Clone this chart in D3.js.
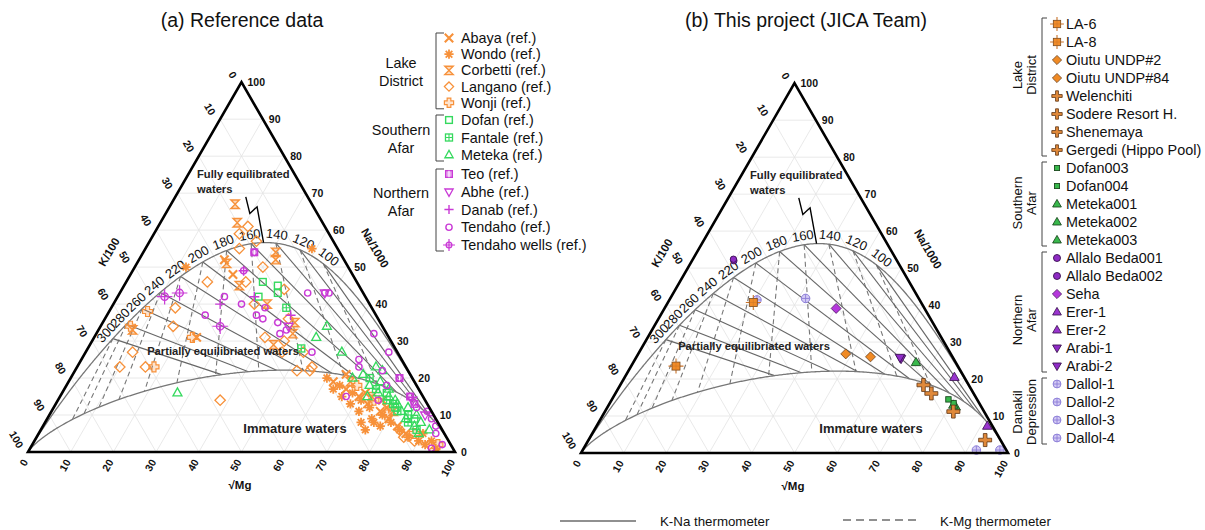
<!DOCTYPE html>
<html>
<head>
<meta charset="utf-8">
<script src="https://cdn.jsdelivr.net/npm/d3@7"></script>
<style>
  body { margin: 0; background: #fff; }
  svg { display: block; font-family: "Liberation Sans", Arial, Helvetica, sans-serif; }
</style>
</head>
<body>
<svg id="chart" width="1205" height="530"></svg>
<script>
// ---------------------------------------------------------------------------
// Values. Every sample is [Na, √Mg] in percent of (Na/1000 + K/100 + √Mg);
// the K/100 share is the remainder.
// ---------------------------------------------------------------------------
const edgeTicks  = [0, 10, 20, 30, 40, 50, 60, 70, 80, 90, 100];
const tempLabels = [100, 120, 140, 160, 180, 200, 220, 240, 260, 280, 300];

// (a) reference data
const abaya = [[19,62],[17,66],[15,70],[13,73],[11,77],[9,80],[7,83],[5,86],[16,71],[12,78],[52,20],[48,24],[31,24],[21,64],[14,76]];
const wondo = [[55,39],[50,12],[8,74],[6,76],[8,77],[18,64],[16,68],[14,71],[12,74],[10,78],[8,81],[6,84],[4,87],[3,90],[2,92],[5,90],[20,60],[17,63],[13,69],[11,72],[9,76],[7,79],[15,66],[3,93],[1,95]];
const corbetti = [[67,15],[62,18],[54,31],[52,32],[51,21],[35,45],[32,46],[33,8],[45,27],[40,36],[19,66],[15,73],[11,80],[29,43]];
const langano = [[61,21],[59,20],[57,25],[55,22],[50,30],[46,19],[46,28],[44,38],[40,33],[31,40],[30,45],[27,51],[22,52],[23,55],[39,15],[34,17],[27,11],[23,10],[23,16],[14,38],[3,89],[2,93],[4,86],[6,84],[22,55],[27,46],[36,43]];
const wonji = [[38,9],[34,7],[23,18],[18,68],[14,74],[10,79],[31,23],[5,88],[2,95]];
const dofan = [[46,32],[45,36],[43,37],[42,33],[16,76],[12,80],[9,86]];
const fantale = [[39,41],[28,50],[20,70],[17,73],[14,77],[11,81],[8,85],[6,88],[13,79],[10,84]];
const meteka = [[31,52],[34,53],[27,60],[23,70],[22,72],[16,27],[20,66],[18,71],[16,74],[15,77],[13,80],[11,82],[9,84],[7,87],[5,89],[19,73],[17,76],[14,79],[12,83],[10,86],[21,68],[15,72],[8,88],[6,91]];
const teo = [[15,82],[13,84],[54,26],[20,77]];
const abhe = [[14,83],[10,88],[34,44],[43,48]];
const danab = [[40,25],[42,32],[49,26],[37,43]];
const tendaho = [[54,26],[49,26],[42,25],[37,23],[40,30],[37,35],[39,36],[36,37],[35,41],[33,44],[32,43],[43,44],[43,48],[43,49],[27,53],[25,65],[32,65],[27,71],[23,66],[14,75],[20,77],[15,82],[11,88],[7,92],[2,96],[1,94],[15,67],[22,72],[12,85],[5,93],[9,90],[18,75]];
const tendahoWells = [[42,11],[43,14],[34,28]];

// (b) this project
const projNames = ["LA-6","LA-8","Oiutu UNDP#2","Oiutu UNDP#84","Welenchiti","Sodere Resort H.","Shenemaya","Gergedi (Hippo Pool)",
                   "Dofan003","Dofan004","Meteka001","Meteka002","Meteka003",
                   "Allalo Beda001","Allalo Beda002","Seha","Erer-1","Erer-2","Arabi-1","Arabi-2",
                   "Dallol-1","Dallol-2","Dallol-3","Dallol-4"];
const projNa = [23.5,40.7,26.8,26.0,18.4,16.1,11.2,3.5, 14.5,13.5,24.5,13.0,12.5, 52.4,52.0,39.1,20.5,7.3,25.8,25.5, 41.8,41.4,0.8,0.8];
const projMg = [10.5,20.0,48.6,54.8,71.0,74.0,81.6,92.9, 78.8,80.5,66.2,80.7,81.5, 9.5,9.8,40.2,77.2,91.5,61.8,62.2, 31.7,20.5,92.2,97.7];

// ---------------------------------------------------------------------------
// Giggenbach (1988) geothermometers
// ---------------------------------------------------------------------------
function norm(a, c) { const s = a + 1 + c; return { na: 100 * a / s, mg: 100 * c / s }; }
// full equilibrium: K-Na and K-Mg thermometers agree
function fullEq(t) {
  const T = t + 273.15;
  const a = Math.pow(10, 1390 / T - 1.75) / 10;
  const c = 100 / Math.pow(10, (14 - 4410 / T) / 2);
  return norm(a, c);
}
// immature-water boundary, maturity index 2.0, on the K-Na line of t
function immature(t) {
  const T = t + 273.15;
  const lkn = 1.75 - 1390 / T;
  const a = Math.pow(10, -lkn) / 10;
  const c = 100 / Math.pow(10, ((2 + lkn) / 0.315) / 2);
  return norm(a, c);
}
// K-Mg line of t where it meets the immature-water boundary
function kmgLow(t) {
  const T = t + 273.15;
  const lk2 = 14 - 4410 / T;
  const invT = (3.75 - 0.315 * lk2) / 1390;
  const a = Math.pow(10, 1390 * invT - 1.75) / 10;
  const c = 100 / Math.pow(10, lk2 / 2);
  return norm(a, c);
}

// ---------------------------------------------------------------------------
// styles
// ---------------------------------------------------------------------------
const OR = "#f7913a", GR = "#35d95e", MG = "#c93ad6";
const refStyle = {
  abaya:        { name: "Abaya (ref.)",         type: "xcross",     color: OR, s: 4.2 },
  wondo:        { name: "Wondo (ref.)",         type: "asterisk",   color: OR, s: 4.6 },
  corbetti:     { name: "Corbetti (ref.)",      type: "hourglass",  color: OR, s: 4.2 },
  langano:      { name: "Langano (ref.)",       type: "diamond",    color: OR, s: 5.2 },
  wonji:        { name: "Wonji (ref.)",         type: "wonji",      color: OR, s: 5.0 },
  dofan:        { name: "Dofan (ref.)",         type: "square",     color: GR, s: 4.2 },
  fantale:      { name: "Fantale (ref.)",       type: "squareplus", color: GR, s: 4.4 },
  meteka:       { name: "Meteka (ref.)",        type: "triangle",   color: GR, s: 5.0 },
  teo:          { name: "Teo (ref.)",           type: "teo",        color: MG, s: 4.2 },
  abhe:         { name: "Abhe (ref.)",          type: "tridown",    color: MG, s: 5.0 },
  danab:        { name: "Danab (ref.)",         type: "plus",       color: MG, s: 5.0 },
  tendaho:      { name: "Tendaho (ref.)",       type: "circle",     color: MG, s: 4.6 },
  tendahoWells: { name: "Tendaho wells (ref.)", type: "circleplus", color: MG, s: 6.0 }
};
const refData = { abaya, wondo, corbetti, langano, wonji, dofan, fantale, meteka, teo, abhe, danab, tendaho, tendahoWells };
const refGroups = [
  { label: ["Lake", "District"],  keys: ["abaya", "wondo", "corbetti", "langano", "wonji"], y0: 38,  step: 16.2, labelY: 72 },
  { label: ["Southern", "Afar"],  keys: ["dofan", "fantale", "meteka"],                     y0: 120, step: 17.5, labelY: 139 },
  { label: ["Northern", "Afar"],  keys: ["teo", "abhe", "danab", "tendaho", "tendahoWells"], y0: 174, step: 17.75, labelY: 202 }
];

const LA  = { type: "laSq",        fill: "#f28c28", stroke: "#7a4a1e", line: "#c9732a" };
const OIU = { type: "diamondF",    fill: "#f08a24", stroke: "#6b4220" };
const CRS = { type: "plusF",       fill: "#e0893a", stroke: "#5e3514" };
const DSQ = { type: "squareF",     fill: "#38b84c", stroke: "#1b4a1f" };
const DTR = { type: "triangleF",   fill: "#38b84c", stroke: "#1b4a1f" };
const ALB = { type: "circleF",     fill: "#8e2bc4", stroke: "#3a124f" };
const SEH = { type: "diamondF",    fill: "#b537dc", stroke: "#4a1660" };
const ERR = { type: "triangleF",   fill: "#9a34cf", stroke: "#401656" };
const ARB = { type: "tridownF",    fill: "#8f2bc7", stroke: "#3a124f" };
const DAL = { type: "circleplusF", fill: "#d4cbf4", stroke: "#8c7ed8" };
const projStyle = [LA, LA, OIU, OIU, CRS, CRS, CRS, CRS, DSQ, DSQ, DTR, DTR, DTR,
                   ALB, ALB, SEH, ERR, ERR, ARB, ARB, DAL, DAL, DAL, DAL];
const projGroups = [
  { label: ["Lake", "District"],       from: 0,  to: 7,  labelY: 75 },
  { label: ["Southern", "Afar"],       from: 8,  to: 12, labelY: 203 },
  { label: ["Northern", "Afar"],       from: 13, to: 19, labelY: 320 },
  { label: ["Danakil", "Depression"],  from: 20, to: 23, labelY: 412 }
];

// ---------------------------------------------------------------------------
// symbols
// ---------------------------------------------------------------------------
function crossPoly(s, w) {
  return `M${-w},${-s}H${w}V${-w}H${s}V${w}H${w}V${s}H${-w}V${w}H${-s}V${-w}H${-w}Z`;
}
function drawSymbol(g, type, st, s) {
  const c = st.color;
  switch (type) {
    case "xcross":
      g.append("path").attr("d", `M${-s},${-s}L${s},${s}M${-s},${s}L${s},${-s}`)
        .attr("stroke", c).attr("stroke-width", 2.1).attr("fill", "none"); break;
    case "asterisk": {
      const d = s * 0.72;
      g.append("path").attr("d", `M${-s},0H${s}M0,${-s}V${s}M${-d},${-d}L${d},${d}M${-d},${d}L${d},${-d}`)
        .attr("stroke", c).attr("stroke-width", 1.8).attr("fill", "none"); break;
    }
    case "hourglass":
      g.append("path").attr("d", `M${-s},${-s}H${s}L${-s},${s}H${s}Z`)
        .attr("stroke", c).attr("stroke-width", 1.4).attr("fill", c).attr("fill-opacity", 0.35); break;
    case "diamond":
      g.append("path").attr("d", `M0,${-s}L${s},0L0,${s}L${-s},0Z`)
        .attr("stroke", c).attr("stroke-width", 1.3).attr("fill", "none"); break;
    case "wonji":
      g.append("path").attr("d", crossPoly(s, s * 0.4))
        .attr("stroke", c).attr("stroke-width", 1.2).attr("fill", c).attr("fill-opacity", 0.25); break;
    case "square":
      g.append("rect").attr("x", -s * 0.8).attr("y", -s * 0.8).attr("width", s * 1.6).attr("height", s * 1.6)
        .attr("stroke", c).attr("stroke-width", 1.4).attr("fill", "none"); break;
    case "squareplus":
      g.append("rect").attr("x", -s * 0.8).attr("y", -s * 0.8).attr("width", s * 1.6).attr("height", s * 1.6)
        .attr("stroke", c).attr("stroke-width", 1.3).attr("fill", "none");
      g.append("path").attr("d", `M${-s * 0.8},0H${s * 0.8}M0,${-s * 0.8}V${s * 0.8}`)
        .attr("stroke", c).attr("stroke-width", 1.1); break;
    case "triangle":
      g.append("path").attr("d", `M0,${-s}L${s * 0.9},${s * 0.6}L${-s * 0.9},${s * 0.6}Z`)
        .attr("stroke", c).attr("stroke-width", 1.3).attr("fill", "none"); break;
    case "teo":
      g.append("rect").attr("x", -s * 0.8).attr("y", -s * 0.8).attr("width", s * 1.6).attr("height", s * 1.6)
        .attr("stroke", c).attr("stroke-width", 1.3).attr("fill", c).attr("fill-opacity", 0.45);
      g.append("path").attr("d", `M0,${-s * 0.8}V${s * 0.8}`).attr("stroke", "#fff").attr("stroke-width", 1.1); break;
    case "tridown":
      g.append("path").attr("d", `M0,${s}L${s * 0.9},${-s * 0.6}L${-s * 0.9},${-s * 0.6}Z`)
        .attr("stroke", c).attr("stroke-width", 1.3).attr("fill", "none"); break;
    case "plus":
      g.append("path").attr("d", `M${-s},0H${s}M0,${-s}V${s}`)
        .attr("stroke", c).attr("stroke-width", 1.4); break;
    case "circle":
      g.append("circle").attr("r", s * 0.68)
        .attr("stroke", c).attr("stroke-width", 1.4).attr("fill", "none"); break;
    case "circleplus":
      g.append("circle").attr("r", s * 0.62)
        .attr("stroke", c).attr("stroke-width", 1.3).attr("fill", c).attr("fill-opacity", 0.12);
      g.append("path").attr("d", `M${-s * 1.3},0H${s * 1.3}M0,${-s * 1.3}V${s * 1.3}`)
        .attr("stroke", c).attr("stroke-width", 1.2); break;
    // filled symbols
    case "laSq":
      g.append("path").attr("d", `M${-s * 1.5},0H${s * 1.5}M0,${-s * 1.5}V${s * 1.5}`)
        .attr("stroke", st.line).attr("stroke-width", 1.1);
      g.append("rect").attr("x", -s * 0.8).attr("y", -s * 0.8).attr("width", s * 1.6).attr("height", s * 1.6)
        .attr("fill", st.fill).attr("stroke", st.stroke).attr("stroke-width", 0.8);
      g.append("path").attr("d", `M${-s * 0.8},0H${s * 0.8}M0,${-s * 0.8}V${s * 0.8}`)
        .attr("stroke", st.line).attr("stroke-width", 0.8).attr("stroke-opacity", 0.6); break;
    case "diamondF":
      g.append("path").attr("d", `M0,${-s}L${s},0L0,${s}L${-s},0Z`)
        .attr("fill", st.fill).attr("stroke", st.stroke).attr("stroke-width", 0.8); break;
    case "plusF":
      g.append("path").attr("d", crossPoly(s, s * 0.28))
        .attr("fill", st.fill).attr("stroke", st.stroke).attr("stroke-width", 0.8); break;
    case "squareF":
      g.append("rect").attr("x", -s * 0.75).attr("y", -s * 0.75).attr("width", s * 1.5).attr("height", s * 1.5)
        .attr("fill", st.fill).attr("stroke", st.stroke).attr("stroke-width", 0.9); break;
    case "triangleF":
      g.append("path").attr("d", `M0,${-s}L${s * 0.95},${s * 0.65}L${-s * 0.95},${s * 0.65}Z`)
        .attr("fill", st.fill).attr("stroke", st.stroke).attr("stroke-width", 0.9); break;
    case "tridownF":
      g.append("path").attr("d", `M0,${s}L${s * 0.95},${-s * 0.65}L${-s * 0.95},${-s * 0.65}Z`)
        .attr("fill", st.fill).attr("stroke", st.stroke).attr("stroke-width", 0.9); break;
    case "circleF":
      g.append("circle").attr("r", s * 0.8)
        .attr("fill", st.fill).attr("stroke", st.stroke).attr("stroke-width", 0.9); break;
    case "circleplusF":
      g.append("circle").attr("r", s * 0.85)
        .attr("fill", st.fill).attr("stroke", st.stroke).attr("stroke-width", 1);
      g.append("path").attr("d", `M${-s * 0.85},0H${s * 0.85}M0,${-s * 0.85}V${s * 0.85}`)
        .attr("stroke", st.stroke).attr("stroke-width", 0.9); break;
  }
}

// ---------------------------------------------------------------------------
// drawing
// ---------------------------------------------------------------------------
const svg = d3.select("#chart");
svg.append("rect").attr("width", 1205).attr("height", 530).attr("fill", "#fff");

const SIDE = 427, H = SIDE * Math.sqrt(3) / 2;
const curveTemps = d3.range(0, 400, 1).concat(d3.range(400, 3001, 10));

function ternaryPanel(ox, oy) {
  const g = svg.append("g");
  const sx = d3.scaleLinear().domain([0, 100]).range([ox, ox + SIDE]);
  const sy = d3.scaleLinear().domain([0, 100]).range([oy, oy - H]);
  const P = (na, mg) => [sx(mg + na / 2), sy(na)];
  const line = d3.line().x(d => P(d.na, d.mg)[0]).y(d => P(d.na, d.mg)[1]);
  const seg = (a, b) => line([a, b]);

  // faint 10 % grid
  const grid = g.append("g").attr("stroke", "#e3e3e3").attr("stroke-width", 0.8).attr("fill", "none");
  d3.range(10, 100, 10).forEach(v => {
    grid.append("path").attr("d", seg({ na: v, mg: 0 }, { na: v, mg: 100 - v }));
    grid.append("path").attr("d", seg({ na: 0, mg: v }, { na: 100 - v, mg: v }));
    grid.append("path").attr("d", seg({ na: 100 - v, mg: 0 }, { na: 0, mg: 100 - v }));
  });

  // thermometer lines
  const th = g.append("g").attr("fill", "none");
  tempLabels.forEach(t => {
    th.append("path").attr("d", seg(fullEq(t), kmgLow(t)))
      .attr("stroke", "#777").attr("stroke-width", 1.1).attr("stroke-dasharray", "5,3.5");
    th.append("path").attr("d", seg(fullEq(t), immature(t)))
      .attr("stroke", "#666").attr("stroke-width", 1.1);
  });

  // full-equilibrium and immature-water curves
  const Kv = { na: 0, mg: 0 };
  th.append("path").attr("d", line(curveTemps.map(fullEq).concat([Kv])))
    .attr("stroke", "#777").attr("stroke-width", 1.3);
  th.append("path").attr("d", line(curveTemps.map(immature).concat([Kv])))
    .attr("stroke", "#777").attr("stroke-width", 1.3);

  // temperature labels along the full-equilibrium curve
  tempLabels.forEach(t => {
    const f = fullEq(t), pa = P(fullEq(t + 2).na, fullEq(t + 2).mg), pb = P(fullEq(t - 2).na, fullEq(t - 2).mg);
    let dx = pb[0] - pa[0], dy = pb[1] - pa[1];
    const len = Math.hypot(dx, dy); dx /= len; dy /= len;
    let nx = dy, ny = -dx; if (ny > 0) { nx = -nx; ny = -ny; }
    const p = P(f.na, f.mg);
    const x = p[0] + nx * 9, y = p[1] + ny * 9;
    g.append("text").attr("x", x).attr("y", y)
      .attr("transform", `rotate(${Math.atan2(dy, dx) * 180 / Math.PI},${x},${y})`)
      .attr("text-anchor", "middle").attr("dominant-baseline", "central")
      .attr("font-size", 13).attr("fill", "#111").text(t);
  });

  // zig-zag pointer from "Fully equilibrated waters" to the 150 °C point
  const zig = [{ na: 69.0, mg: 16.5 }, { na: 64.5, mg: 19.7 }, { na: 66.3, mg: 20.5 }, fullEq(150)];
  g.append("path").attr("d", line(zig)).attr("fill", "none").attr("stroke", "#000").attr("stroke-width", 1.4);

  return { g, P, sx, sy, line, ox, oy };
}

function panelFrame(p, opts) {
  const { g, P, ox, oy } = p;
  const V = [P(100, 0), P(0, 100), P(0, 0)];
  g.append("path").attr("d", `M${V[0]}L${V[1]}L${V[2]}Z`)
    .attr("fill", "none").attr("stroke", "#000").attr("stroke-width", 2.6).attr("stroke-linejoin", "miter");

  // region names
  const rg = g.append("g").attr("font-weight", "bold").attr("fill", "#222");
  rg.append("text").attr("x", ox + 169).attr("y", oy - 274).attr("font-size", 11.2).text("Fully equilibrated");
  rg.append("text").attr("x", ox + 169).attr("y", oy - 259).attr("font-size", 11.2).text("waters");
  rg.append("text").attr("x", ox + opts.partial[0]).attr("y", oy + opts.partial[1]).attr("font-size", 11.2)
    .attr("text-anchor", "middle").text("Partially equilibriated waters");
  rg.append("text").attr("x", ox + opts.immature[0]).attr("y", oy + opts.immature[1]).attr("font-size", 13)
    .attr("text-anchor", "middle").text("Immature waters");

  // edge tick labels
  const tk = g.append("g").attr("font-size", 10.5).attr("font-weight", "bold").attr("fill", "#111");
  edgeTicks.forEach(v => {
    const pk = P(100 - v, 0);            // K/100 on the left edge
    tk.append("text").attr("x", pk[0] - 7).attr("y", pk[1] - 5).attr("text-anchor", "end")
      .attr("dominant-baseline", "central")
      .attr("transform", `rotate(60,${pk[0] - 7},${pk[1] - 5})`).text(v);
    const pn = P(v, 100 - v);            // Na/1000 on the right edge
    tk.append("text").attr("x", pn[0] + 6).attr("y", pn[1]).attr("dominant-baseline", "central").text(v);
    const pm = P(0, v);                  // √Mg on the base
    tk.append("text").attr("x", pm[0] - 3).attr("y", pm[1] + 8).attr("text-anchor", "end")
      .attr("dominant-baseline", "central")
      .attr("transform", `rotate(-60,${pm[0] - 3},${pm[1] + 8})`).text(v);
  });

  // axis names
  const an = g.append("g").attr("font-size", 11.5).attr("font-weight", "bold").attr("fill", "#111")
    .attr("text-anchor", "middle").attr("dominant-baseline", "central");
  an.append("text").attr("x", ox + 81).attr("y", oy - 200).attr("transform", `rotate(-60,${ox + 81},${oy - 200})`).text("K/100");
  an.append("text").attr("x", ox + 347).attr("y", oy - 204).attr("transform", `rotate(60,${ox + 347},${oy - 204})`).text("Na/1000");
  an.append("text").attr("x", ox + 212).attr("y", oy + 33).text("√Mg");
}

// ---- (a) reference data ----
const pA = ternaryPanel(28, 452);
const ptsA = pA.g.append("g");
Object.keys(refStyle).forEach(key => {
  const st = refStyle[key];
  refData[key].forEach(([na, mg]) => {
    const [x, y] = pA.P(na, mg);
    drawSymbol(ptsA.append("g").attr("transform", `translate(${x},${y})`), st.type, st, st.s);
  });
});
panelFrame(pA, { partial: [195, -97], immature: [267, -19] });

// ---- (b) this project ----
const pB = ternaryPanel(581, 453);
const ptsB = pB.g.append("g");
d3.range(projNames.length).reverse().forEach(i => {
  const st = projStyle[i];
  const s = st.type === "plusF" ? 6.5 : st.type === "squareF" ? 3.6 : st.type === "circleF" ? 4 : 5;
  const [x, y] = pB.P(projNa[i], projMg[i]);
  drawSymbol(ptsB.append("g").attr("transform", `translate(${x},${y})`), st.type, st, s);
});
panelFrame(pB, { partial: [173, -103], immature: [290, -20] });

// ---- titles ----
svg.append("text").attr("x", 242).attr("y", 27).attr("text-anchor", "middle").attr("font-size", 19.5).attr("fill", "#111").text("(a) Reference data");
svg.append("text").attr("x", 806).attr("y", 27).attr("text-anchor", "middle").attr("font-size", 19.5).attr("fill", "#111").text("(b) This project (JICA Team)");

// ---- legend (a) ----
const legA = svg.append("g").attr("font-size", 14.4).attr("fill", "#111");
refGroups.forEach(gr => {
  const ys = gr.keys.map((k, i) => gr.y0 + i * gr.step);
  gr.keys.forEach((k, i) => {
    const st = refStyle[k];
    drawSymbol(legA.append("g").attr("transform", `translate(449,${ys[i]})`), st.type, st, Math.min(st.s, 4.6));
    legA.append("text").attr("x", 461).attr("y", ys[i]).attr("dominant-baseline", "central").text(st.name);
  });
  const y1 = ys[0] - 5, y2 = ys[ys.length - 1] + 6;
  legA.append("path").attr("d", `M444,${y1}H436V${y2}H444`).attr("fill", "none").attr("stroke", "#444").attr("stroke-width", 1);
  legA.append("text").attr("x", 401).attr("y", gr.labelY - 8.8).attr("text-anchor", "middle").attr("dominant-baseline", "central").text(gr.label[0]);
  legA.append("text").attr("x", 401).attr("y", gr.labelY + 8.8).attr("text-anchor", "middle").attr("dominant-baseline", "central").text(gr.label[1]);
});

// ---- legend (b) ----
const legB = svg.append("g").attr("font-size", 14.4).attr("fill", "#111");
const rowY = i => 24 + i * 18;
projNames.forEach((name, i) => {
  const st = projStyle[i];
  const s = st.type === "plusF" ? 5.2 : st.type === "squareF" ? 3.4 : st.type === "circleF" ? 4.4 : 4.6;
  drawSymbol(legB.append("g").attr("transform", `translate(1057,${rowY(i)})`), st.type, st, s);
  legB.append("text").attr("x", 1066).attr("y", rowY(i)).attr("dominant-baseline", "central").text(name);
});
projGroups.forEach(gr => {
  const y1 = rowY(gr.from) - 6, y2 = rowY(gr.to) + 6;
  legB.append("path").attr("d", `M1047,${y1}H1042V${y2}H1047`).attr("fill", "none").attr("stroke", "#444").attr("stroke-width", 1);
  [[1017, gr.label[0]], [1031, gr.label[1]]].forEach(([x, txt]) => {
    legB.append("text").attr("x", x).attr("y", gr.labelY).attr("font-size", 13)
      .attr("text-anchor", "middle").attr("dominant-baseline", "central")
      .attr("transform", `rotate(-90,${x},${gr.labelY})`).text(txt);
  });
});

// ---- line-style legend ----
const legC = svg.append("g").attr("font-size", 13.3).attr("fill", "#111");
legC.append("path").attr("d", "M560,521H636").attr("stroke", "#222").attr("stroke-width", 1.2);
legC.append("text").attr("x", 660).attr("y", 526).text("K-Na thermometer");
legC.append("path").attr("d", "M843,520H916").attr("stroke", "#222").attr("stroke-width", 1.2).attr("stroke-dasharray", "8,5");
legC.append("text").attr("x", 940).attr("y", 526).text("K-Mg thermometer");
</script>
</body>
</html>
